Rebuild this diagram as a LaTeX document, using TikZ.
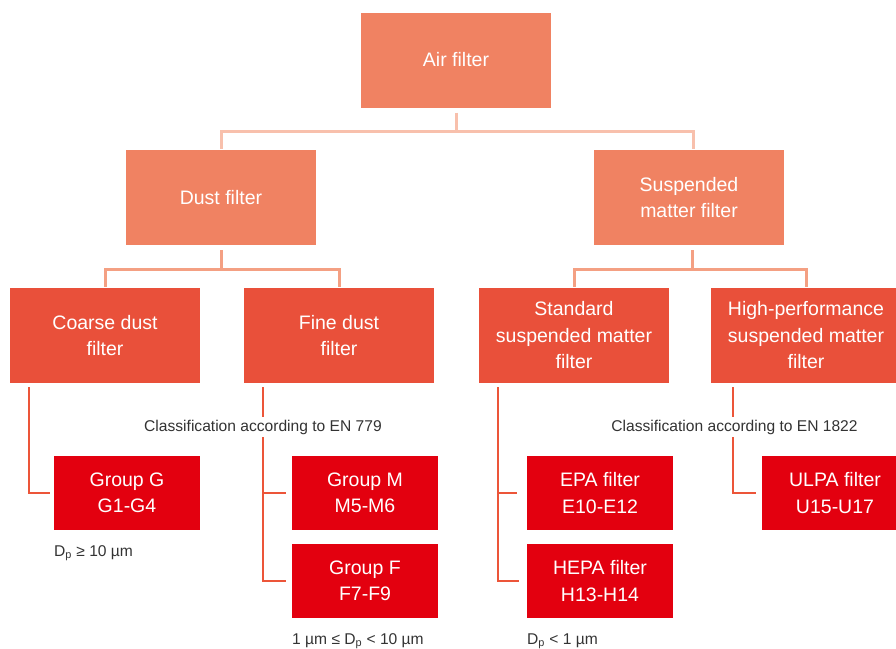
\documentclass[tikz,border=0pt]{standalone}
\usepackage{fontspec}
\setmainfont{Liberation Sans}
\definecolor{topc}{HTML}{F08262}
\definecolor{midc}{HTML}{E9503A}
\definecolor{leafc}{HTML}{E3000F}
\definecolor{lineA}{HTML}{F8C0AC}
\definecolor{lineB}{HTML}{F4A083}
\definecolor{lineC}{HTML}{EC5539}
\definecolor{txt}{HTML}{333333}
\begin{document}
\begin{tikzpicture}[x=1pt,y=-1pt,
  box/.style={rectangle,inner sep=0pt,text=white,align=center,
    font=\fontsize{19.5}{26.5}\selectfont},
  lvlA/.style={box,fill=topc,minimum width=190pt,minimum height=95pt},
  lvlB/.style={box,fill=midc,minimum width=190pt,minimum height=95pt},
  leaf/.style={box,fill=leafc,minimum width=146pt,minimum height=74pt},
  conA/.style={draw=lineA,line width=3pt},
  conB/.style={draw=lineB,line width=3pt},
  conC/.style={draw=lineC,line width=2.6pt},
  note/.style={text=txt,inner sep=0pt,font=\fontsize{15.6}{18}\selectfont},
  cls/.style={note,fill=white,inner xsep=1pt,inner ysep=3pt}]
\useasboundingbox (0,0) rectangle (896,648);
\clip (0,0) rectangle (896,648);
% boxes
\node[lvlA] (air) at (456,60) {Air filter};
\node[lvlA] (dust) at (221,197.5) {Dust filter};
\node[lvlA] (susp) at (689,197.5) {Suspended\\matter filter};
\node[lvlB] (coarse) at (105,335.5) {Coarse dust\\filter};
\node[lvlB] (fine) at (339,335.5) {Fine dust\\filter};
\node[lvlB] (std) at (574,335.5) {Standard\\suspended matter\\filter};
\node[lvlB] (hp) at (806,335.5) {High-performance\\suspended matter\\filter};
\node[leaf] (gg) at (127,493) {Group G\\G1-G4};
\node[leaf] (gm) at (365,493) {Group M\\M5-M6};
\node[leaf] (gf) at (365,581) {Group F\\F7-F9};
\node[leaf] (epa) at (600,493) {EPA filter\\E10-E12};
\node[leaf] (hepa) at (600,581) {HEPA filter\\H13-H14};
\node[leaf] (ulpa) at (835,493) {ULPA filter\\U15-U17};
% junctions level 1
\coordinate (j1) at (456,131);
\draw[conA] ([yshift=-5pt]air.south) -- (j1);
\draw[conA] (j1) -| ([yshift=1pt]dust.north);
\draw[conA] (j1) -| ([xshift=4pt,yshift=1pt]susp.north);
% level 2
\coordinate (j2) at (221,269);
\draw[conB] ([yshift=-5pt]dust.south) -- (j2);
\draw[conB] (j2) -| ([yshift=1pt]coarse.north);
\draw[conB] (j2) -| ([yshift=1pt]fine.north);
\coordinate (j3) at (692,269);
\draw[conB] ([xshift=3pt,yshift=-5pt]susp.south) -- (j3);
\draw[conB] (j3) -| ([yshift=1pt]std.north);
\draw[conB] (j3) -| ([yshift=1pt]hp.north);
% level 3
\coordinate (k1) at (29,387);
\draw[conC] (k1) |- ([xshift=-4pt]gg.west);
\coordinate (k2) at (263,387);
\draw[conC] (k2) |- ([xshift=-6pt]gf.west);
\draw[conC] (k2 |- gm.west) -- ([xshift=-6pt]gm.west);
\coordinate (k3) at (498,387);
\draw[conC] (k3) |- ([xshift=-8pt]hepa.west);
\draw[conC] (k3 |- epa.west) -- ([xshift=-10pt]epa.west);
\coordinate (k4) at (733,387);
\draw[conC] (k4) |- ([xshift=-6pt]ulpa.west);
% classification labels
\node[cls] (c779) at (263,427) {Classification according to EN 779};
\node[cls] (c1822) at (734.5,427) {Classification according to EN 1822};
% notes
\node[note,anchor=base west] (n1) at (54,556) {D\textsubscript{p} ≥ 10 µm};
\node[note,anchor=base west] (n2) at (292,644) {1 µm ≤ D\textsubscript{p} < 10 µm};
\node[note,anchor=base west] (n3) at (527,644) {D\textsubscript{p} < 1 µm};
\end{tikzpicture}
\end{document}
